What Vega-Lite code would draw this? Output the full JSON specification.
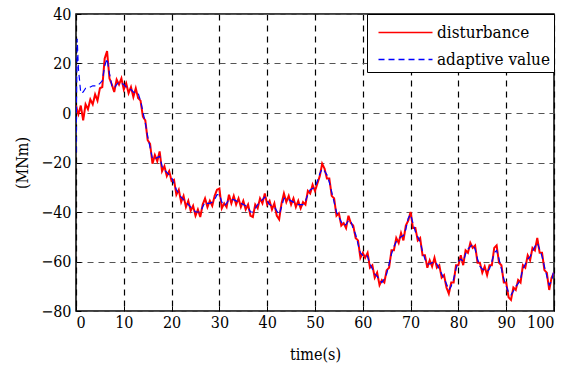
{
 "$schema": "https://vega.github.io/schema/vega-lite/v6.json",
 "width": 478,
 "height": 297,
 "autosize": {"type": "none"},
 "padding": {"left": 76, "top": 14, "right": 27, "bottom": 56},
 "background": "white",
 "config": {
  "font": "DejaVu Serif Condensed, DejaVu Serif",
  "view": {"stroke": "black", "strokeWidth": 1.5},
  "axis": {
   "labelFont": "DejaVu Serif Condensed, DejaVu Serif", "titleFont": "DejaVu Serif Condensed, DejaVu Serif",
   "labelFontSize": 16, "titleFontSize": 16, "labelColor": "black", "titleColor": "black",
   "titleFontWeight": "normal", "domain": false, "tickColor": "black", "tickSize": -5,
   "labelPadding": 11, "grid": true, "gridDash": [6, 5], "gridWidth": 1.2
  }
 },
 "data": {"values": [
  {"t":0,"d":3,"a":-16},{"t":0.25,"d":1,"a":30},{"t":0.5,"d":-0.5,"a":18},{"t":1,"d":3,"a":8},{"t":1.5,"d":-3,"a":8.5},
  {"t":2,"d":3.5,"a":10},{"t":2.5,"d":1.5,"a":10},{"t":3,"d":5.5,"a":10.5},{"t":3.5,"d":3.5,"a":11},{"t":4,"d":7.5,"a":11},
  {"t":4.5,"d":5,"a":11},{"t":5,"d":10,"a":12},{"t":5.5,"d":10.5,"a":13},{"t":6,"d":22,"a":19},{"t":6.5,"d":25,"a":22},
  {"t":7,"d":14,"a":16},{"t":7.5,"d":11.5,"a":11},{"t":8,"d":8.5,"a":10},{"t":8.5,"d":13.5,"a":11.5},{"t":9,"d":11.5,"a":12.5},
  {"t":9.5,"d":14,"a":12},{"t":10,"d":9.5,"a":11.5},{"t":10.5,"d":12,"a":10.5},{"t":11,"d":8,"a":10},{"t":11.5,"d":10.5,"a":9.5},
  {"t":12,"d":6.5,"a":8.5},{"t":12.5,"d":10,"a":8},{"t":13,"d":6,"a":8},{"t":13.5,"d":5,"a":5},{"t":14,"d":-1.5,"a":0.5},
  {"t":14.5,"d":-3,"a":-4},{"t":15,"d":-11,"a":-9.5},{"t":15.5,"d":-12.5,"a":-14},{"t":16,"d":-20.5,"a":-18.5},{"t":16.5,"d":-17,"a":-18.5},
  {"t":17,"d":-19.5,"a":-18},{"t":17.5,"d":-15.5,"a":-17.5},{"t":18,"d":-23.5,"a":-21.5},{"t":18.5,"d":-21.5,"a":-23},{"t":19,"d":-25.5,"a":-24},
  {"t":19.5,"d":-23.5,"a":-25},{"t":20,"d":-27.5,"a":-26},{"t":20.5,"d":-27,"a":-28.5},{"t":21,"d":-33,"a":-31},{"t":21.5,"d":-31,"a":-32.5},
  {"t":22,"d":-36,"a":-34},{"t":22.5,"d":-33.5,"a":-35},{"t":23,"d":-38,"a":-36},{"t":23.5,"d":-35.5,"a":-37},{"t":24,"d":-39.5,"a":-38},
  {"t":24.5,"d":-37.5,"a":-39},{"t":25,"d":-41.5,"a":-40},{"t":25.5,"d":-39,"a":-40},{"t":26,"d":-42,"a":-40},{"t":26.5,"d":-37,"a":-38},
  {"t":27,"d":-34.5,"a":-36},{"t":27.5,"d":-38,"a":-36.5},{"t":28,"d":-35.5,"a":-36.5},{"t":28.5,"d":-37.5,"a":-36},{"t":29,"d":-33.5,"a":-35},
  {"t":29.5,"d":-31,"a":-33},{"t":30,"d":-30.5,"a":-33},{"t":30.5,"d":-38.5,"a":-36},{"t":31,"d":-36.5,"a":-37.5},{"t":31.5,"d":-38,"a":-36.5},
  {"t":32,"d":-33,"a":-35},{"t":32.5,"d":-36.5,"a":-35},{"t":33,"d":-33.5,"a":-35},{"t":33.5,"d":-37,"a":-35.5},{"t":34,"d":-34.5,"a":-36},
  {"t":34.5,"d":-38,"a":-36.5},{"t":35,"d":-35.5,"a":-37},{"t":35.5,"d":-39,"a":-37.5},{"t":36,"d":-37,"a":-38},{"t":36.5,"d":-41.5,"a":-40},
  {"t":37,"d":-42,"a":-40},{"t":37.5,"d":-37,"a":-38.5},{"t":38,"d":-38.5,"a":-37},{"t":38.5,"d":-34.5,"a":-36},{"t":39,"d":-36.5,"a":-35},
  {"t":39.5,"d":-32.5,"a":-34},{"t":40,"d":-37,"a":-35.5},{"t":40.5,"d":-35.5,"a":-37},{"t":41,"d":-39,"a":-37.5},{"t":41.5,"d":-36.5,"a":-38},
  {"t":42,"d":-41.5,"a":-39.5},{"t":42.5,"d":-43,"a":-41},{"t":43,"d":-36.5,"a":-38},{"t":43.5,"d":-32.5,"a":-34.5},{"t":44,"d":-36,"a":-34.5},
  {"t":44.5,"d":-33.5,"a":-35},{"t":45,"d":-37,"a":-35.5},{"t":45.5,"d":-34.5,"a":-36},{"t":46,"d":-38,"a":-36.5},{"t":46.5,"d":-35.5,"a":-37},
  {"t":47,"d":-38.5,"a":-37},{"t":47.5,"d":-36,"a":-37},{"t":48,"d":-37,"a":-35.5},{"t":48.5,"d":-31.5,"a":-33},{"t":49,"d":-32.5,"a":-31},
  {"t":49.5,"d":-29,"a":-30.5},{"t":50,"d":-31.5,"a":-30},{"t":50.5,"d":-28.5,"a":-27.5},{"t":51,"d":-25.5,"a":-24.5},{"t":51.5,"d":-20.5,"a":-22.5},
  {"t":52,"d":-22.5,"a":-23.5},{"t":52.5,"d":-26.5,"a":-25},{"t":53,"d":-26.5,"a":-28},{"t":53.5,"d":-33.5,"a":-32},{"t":54,"d":-34.5,"a":-36},
  {"t":54.5,"d":-41.5,"a":-40},{"t":55,"d":-40.5,"a":-42},{"t":55.5,"d":-45.5,"a":-44},{"t":56,"d":-44.5,"a":-45.5},{"t":56.5,"d":-46.5,"a":-45},
  {"t":57,"d":-41.5,"a":-43.5},{"t":57.5,"d":-44.5,"a":-43.5},{"t":58,"d":-45.5,"a":-47},{"t":58.5,"d":-50.5,"a":-49},{"t":59,"d":-51.5,"a":-53},
  {"t":59.5,"d":-58.5,"a":-56.5},{"t":60,"d":-56.5,"a":-57.5},{"t":60.5,"d":-58.5,"a":-57},{"t":61,"d":-56.5,"a":-58},{"t":61.5,"d":-62.5,"a":-61},
  {"t":62,"d":-61.5,"a":-63},{"t":62.5,"d":-66.5,"a":-65},{"t":63,"d":-64.5,"a":-66},{"t":63.5,"d":-69.5,"a":-67.5},{"t":64,"d":-67.5,"a":-68.5},
  {"t":64.5,"d":-68.5,"a":-67},{"t":65,"d":-63.5,"a":-65},{"t":65.5,"d":-62.5,"a":-61},{"t":66,"d":-55.5,"a":-57},{"t":66.5,"d":-55.5,"a":-54},
  {"t":67,"d":-50.5,"a":-52},{"t":67.5,"d":-52.5,"a":-51},{"t":68,"d":-48.5,"a":-50},{"t":68.5,"d":-51.5,"a":-49.5},{"t":69,"d":-45.5,"a":-47},
  {"t":69.5,"d":-43.5,"a":-42.5},{"t":70,"d":-40,"a":-41},{"t":70.5,"d":-46.5,"a":-44.5},{"t":71,"d":-46.5,"a":-48},{"t":71.5,"d":-51.5,"a":-50},
  {"t":72,"d":-50.5,"a":-52},{"t":72.5,"d":-57.5,"a":-56},{"t":73,"d":-57.5,"a":-59},{"t":73.5,"d":-62.5,"a":-61},{"t":74,"d":-59.5,"a":-61},
  {"t":74.5,"d":-62,"a":-60.5},{"t":75,"d":-58.5,"a":-60},{"t":75.5,"d":-62.5,"a":-61},{"t":76,"d":-61.5,"a":-63},{"t":76.5,"d":-66.5,"a":-65},
  {"t":77,"d":-65.5,"a":-67},{"t":77.5,"d":-70.5,"a":-69},{"t":78,"d":-73,"a":-71.5},{"t":78.5,"d":-68.5,"a":-70},{"t":79,"d":-68.5,"a":-67},
  {"t":79.5,"d":-61.5,"a":-63},{"t":80,"d":-61.5,"a":-60},{"t":80.5,"d":-57.5,"a":-59},{"t":81,"d":-61.5,"a":-60},{"t":81.5,"d":-55.5,"a":-57},
  {"t":82,"d":-56.5,"a":-55},{"t":82.5,"d":-52.5,"a":-54},{"t":83,"d":-54.5,"a":-53},{"t":83.5,"d":-53.5,"a":-55},{"t":84,"d":-60.5,"a":-59},
  {"t":84.5,"d":-60.5,"a":-62},{"t":85,"d":-64.5,"a":-63},{"t":85.5,"d":-62,"a":-63.5},{"t":86,"d":-65.5,"a":-64},{"t":86.5,"d":-61.5,"a":-63},
  {"t":87,"d":-61.5,"a":-60},{"t":87.5,"d":-54.5,"a":-56.5},{"t":88,"d":-53.5,"a":-55.5},{"t":88.5,"d":-60.5,"a":-59},{"t":89,"d":-61.5,"a":-63},
  {"t":89.5,"d":-68.5,"a":-67},{"t":90,"d":-68.5,"a":-70},{"t":90.5,"d":-74.5,"a":-72.5},{"t":91,"d":-75.5,"a":-73.5},{"t":91.5,"d":-70.5,"a":-72},
  {"t":92,"d":-71.5,"a":-70},{"t":92.5,"d":-67.5,"a":-69},{"t":93,"d":-68.5,"a":-67},{"t":93.5,"d":-61.5,"a":-63},{"t":94,"d":-62.5,"a":-61},
  {"t":94.5,"d":-57.5,"a":-59},{"t":95,"d":-59.5,"a":-58},{"t":95.5,"d":-54.5,"a":-56},{"t":96,"d":-55.5,"a":-54},{"t":96.5,"d":-50.5,"a":-52.5},
  {"t":97,"d":-56.5,"a":-55},{"t":97.5,"d":-56.5,"a":-58},{"t":98,"d":-63.5,"a":-62},{"t":98.5,"d":-64.5,"a":-66},{"t":99,"d":-71.5,"a":-69.5},
  {"t":99.5,"d":-66.5,"a":-68},{"t":100,"d":-64.5,"a":-63}
 ]},
 "layer": [
  {
   "mark": {"type": "line", "strokeWidth": 2, "clip": true},
   "encoding": {
    "x": {"field": "t", "type": "quantitative", "scale": {"domain": [0, 100], "nice": false},
          "axis": {"values": [0,10,20,30,40,50,60,70,80,90,100], "title": "time(s)", "gridColor": "black", "titlePadding": 16, "labelPadding": 8}},
    "y": {"field": "d", "type": "quantitative", "scale": {"domain": [-80, 40], "nice": false},
          "axis": {"values": [-80,-60,-40,-20,0,20,40], "title": "(MNm)", "gridColor": "#555", "labelPadding": 10, "titlePadding": 10}},
    "color": {"datum": "disturbance", "type": "nominal",
              "scale": {"domain": ["disturbance", "adaptive value"], "range": ["#ff0000", "#0000ff"]},
              "legend": {"title": null, "orient": "top-right", "offset": 0, "fillColor": "white", "strokeColor": "black",
                         "padding": 4, "labelFont": "DejaVu Serif Condensed, DejaVu Serif", "labelFontSize": 17, "labelColor": "black",
                         "symbolType": "M-2,0H2", "symbolSize": 729, "symbolStrokeWidth": 1.5, "symbolOffset": 20,
                         "rowPadding": 4, "labelOffset": 17}},
    "strokeDash": {"datum": "disturbance", "type": "nominal",
                   "scale": {"domain": ["disturbance", "adaptive value"], "range": [[1, 0], [6, 4]]}}
   }
  },
  {
   "mark": {"type": "line", "strokeWidth": 1.2, "clip": true},
   "encoding": {
    "x": {"field": "t", "type": "quantitative"},
    "y": {"field": "a", "type": "quantitative"},
    "color": {"datum": "adaptive value", "type": "nominal"},
    "strokeDash": {"datum": "adaptive value", "type": "nominal"}
   }
  }
 ]
}
